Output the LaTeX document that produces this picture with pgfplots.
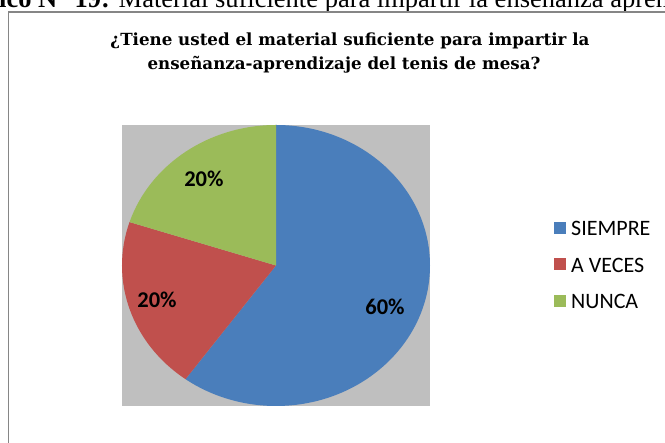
\documentclass[border=0pt]{standalone}
\usepackage{pgfplots}
\pgfplotsset{compat=1.18}
\usepackage{pgfplotstable}
\usepackage{fontspec}
\setmainfont{Liberation Serif}
\newfontfamily\carlito{Carlito}
\newfontfamily\dejaserif{DejaVu Serif}
\definecolor{cblue}{HTML}{4A7EBB}
\definecolor{cred}{HTML}{C0504D}
\definecolor{cgreen}{HTML}{9BBB59}
\definecolor{cbg}{HTML}{BFBFBF}
\definecolor{cframe}{HTML}{868686}

\pgfplotstableread[col sep=comma]{
label,value,lx,ly
SIEMPRE,60,0.708,-0.295
A VECES,20,-0.773,-0.246
NUNCA,20,-0.468,0.616
}\piedata

\begin{document}
\begin{tikzpicture}[x=1pt,y=1pt]
\useasboundingbox (0,0) rectangle (665,443);
\clip (0,0) rectangle (665,443);
\fill[white] (0,0) rectangle (665,443);
% cropped caption of the source document
\node[anchor=base west, inner sep=0pt, font=\fontsize{26.5}{30}\selectfont] at (-1,435)
  {\llap{\textbf{Gráf}}\textbf{ico N° 19:} Material suficiente para impartir la enseñanza aprendizaje};
% chart frame
\draw[cframe, line width=1.5pt] (8.5,-5) -- (8.5,431) -- (700,431);
% title
\node[anchor=base, inner sep=0pt, font=\dejaserif\bfseries\fontsize{16.7}{24}\selectfont] at (350,397.5)
  {¿Tiene usted el material suficiente para impartir la};
\node[anchor=base, inner sep=0pt, font=\dejaserif\bfseries\fontsize{16.7}{24}\selectfont] at (344,373)
  {enseñanza-aprendizaje del tenis de mesa?};

\begin{axis}[at={(122pt,37pt)}, anchor=south west, width=308pt, height=281pt, scale only axis,
  xmin=-1, xmax=1, ymin=-1, ymax=1,
  axis line style={draw=none}, xtick=\empty, ytick=\empty,
  axis background/.style={fill=cbg}, clip=false]
\def\cumangle{90}
\foreach \i/\col in {0/cblue,1/cred,2/cgreen}{
  \pgfplotstablegetelem{\i}{value}\of\piedata
  \let\val\pgfplotsretval
  \pgfplotstablegetelem{\i}{lx}\of\piedata
  \let\lx\pgfplotsretval
  \pgfplotstablegetelem{\i}{ly}\of\piedata
  \let\ly\pgfplotsretval
  \pgfmathsetmacro\sweep{\val*3.6}
  \pgfmathsetmacro\aend{\cumangle-\sweep}
  \edef\temp{\noexpand\fill[\col] (axis cs:0,0) -- (axis cs:{cos(\cumangle)},{sin(\cumangle)})
     arc[start angle=\cumangle, end angle=\aend, x radius=154pt, y radius=140.5pt] -- cycle;
     \noexpand\node[font=\noexpand\carlito\noexpand\bfseries\noexpand\fontsize{22.5}{24}\noexpand\selectfont]
       at (axis cs:\lx,\ly) {\val\noexpand\%};}
  \temp
  \xdef\cumangle{\aend}
}
\end{axis}
% legend
\begin{scope}[font=\carlito\fontsize{22}{24}\selectfont]
\fill[cblue] (554,209) rectangle (566,221);
\node[anchor=west, inner sep=0pt] at (571,214.5) {SIEMPRE};
\fill[cred] (554,172.5) rectangle (566,184.5);
\node[anchor=west, inner sep=0pt] at (571,178) {A VECES};
\fill[cgreen] (554,136) rectangle (566,148);
\node[anchor=west, inner sep=0pt] at (571,141.5) {NUNCA};
\end{scope}
\end{tikzpicture}
\end{document}
